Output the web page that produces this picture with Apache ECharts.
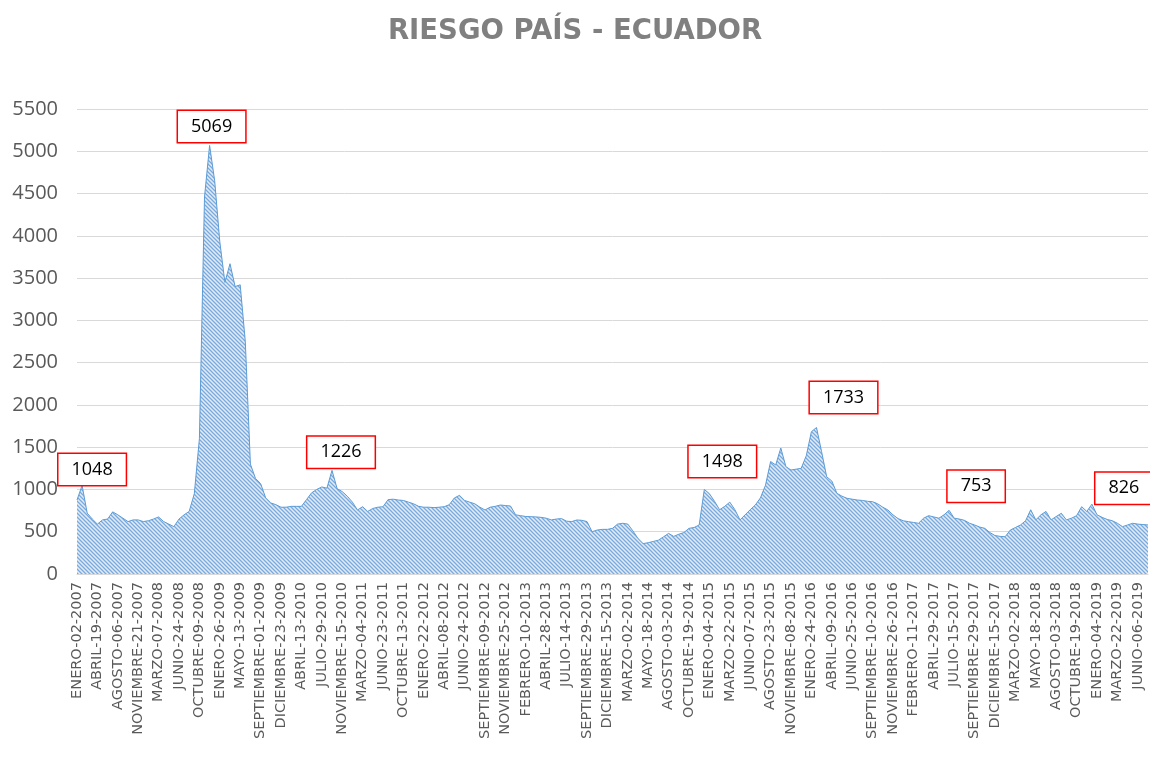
<!DOCTYPE html>
<html>
<head>
<meta charset="utf-8">
<title>Riesgo País - Ecuador</title>
<script src="https://cdn.jsdelivr.net/npm/echarts@6/dist/echarts.min.js"></script>
<style>
  html, body { margin: 0; padding: 0; background: #fff; }
  #chart { width: 1150px; height: 770px; }
</style>
</head>
<body>
<div id="chart"></div>
<script>
// etiquetas del eje X (una cada 4 puntos)
const dateLabels = [
  "ENERO-02-2007", "ABRIL-19-2007", "AGOSTO-06-2007", "NOVIEMBRE-21-2007",
  "MARZO-07-2008", "JUNIO-24-2008", "OCTUBRE-09-2008", "ENERO-26-2009",
  "MAYO-13-2009", "SEPTIEMBRE-01-2009", "DICIEMBRE-23-2009", "ABRIL-13-2010",
  "JULIO-29-2010", "NOVIEMBRE-15-2010", "MARZO-04-2011", "JUNIO-23-2011",
  "OCTUBRE-13-2011", "ENERO-22-2012", "ABRIL-08-2012", "JUNIO-24-2012",
  "SEPTIEMBRE-09-2012", "NOVIEMBRE-25-2012", "FEBRERO-10-2013", "ABRIL-28-2013",
  "JULIO-14-2013", "SEPTIEMBRE-29-2013", "DICIEMBRE-15-2013", "MARZO-02-2014",
  "MAYO-18-2014", "AGOSTO-03-2014", "OCTUBRE-19-2014", "ENERO-04-2015",
  "MARZO-22-2015", "JUNIO-07-2015", "AGOSTO-23-2015", "NOVIEMBRE-08-2015",
  "ENERO-24-2016", "ABRIL-09-2016", "JUNIO-25-2016", "SEPTIEMBRE-10-2016",
  "NOVIEMBRE-26-2016", "FEBRERO-11-2017", "ABRIL-29-2017", "JULIO-15-2017",
  "SEPTIEMBRE-29-2017", "DICIEMBRE-15-2017", "MARZO-02-2018", "MAYO-18-2018",
  "AGOSTO-03-2018", "OCTUBRE-19-2018", "ENERO-04-2019", "MARZO-22-2019",
  "JUNIO-06-2019"
];
const pointsPerLabel = 4;

// riesgo país (puntos básicos)
const riesgo = [
  875, 1048, 720, 650, 590, 640, 650, 735, 700, 660,
  620, 640, 640, 620, 630, 650, 675, 620, 590, 560,
  650, 700, 740, 950, 1600, 4460, 5069, 4650, 3930, 3450,
  3670, 3400, 3420, 2750, 1300, 1130, 1070, 900, 840, 820,
  790, 790, 800, 800, 800, 880, 960, 1000, 1030, 1015,
  1226, 1010, 975, 920, 850, 757, 796, 740, 775, 790,
  796, 880, 885, 875, 870, 850, 830, 800, 790, 790,
  785, 790, 796, 820, 900, 930, 870, 850, 830, 790,
  757, 790, 800, 816, 810, 804, 700, 690, 680, 678,
  675, 670, 660, 640, 650, 655, 625, 620, 639, 635,
  620, 500, 520, 528, 528, 540, 590, 600, 590, 510,
  420, 360, 370, 385, 400, 440, 480, 445, 470, 490,
  540, 550, 580, 1000, 950, 860, 760, 800, 850, 760,
  640, 700, 760, 816, 900, 1050, 1330, 1290, 1490, 1270,
  1230, 1240, 1250, 1400, 1683, 1733, 1446, 1150, 1100, 954,
  920, 895, 885, 875, 870, 860, 855, 830, 790, 757,
  700, 655, 630, 619, 610, 600, 660, 690, 675, 660,
  700, 753, 660, 650, 635, 600, 580, 555, 540, 490,
  455, 445, 441, 520, 550, 580, 630, 760, 640, 700,
  740, 640, 680, 718, 640, 660, 690, 796, 740, 826,
  700, 670, 645, 630, 600, 560, 580, 600, 590, 585,
  580
];

// anotaciones: índice del punto y texto del recuadro
const notePoints = [1, 26, 50, 123, 145, 171, 199];
const noteTexts = ["1048", "5069", "1226", "1498", "1733", "753", "826"];
const noteOffsets = [[10, -16], [2, -19], [9, -18], [18, -28], [27, -30], [27, -24], [32, -16]];

const yTicks = { min: 0, max: 5500, step: 500 };

const categories = riesgo.map((v, i) =>
  i % pointsPerLabel === 0 ? (dateLabels[i / pointsPerLabel] || "") : "");

// patrón rayado en diagonal
function hatch() {
  const s = 4;
  const c = document.createElement("canvas");
  c.width = s; c.height = s;
  const ctx = c.getContext("2d");
  ctx.fillStyle = "#e1ecf8";
  ctx.fillRect(0, 0, s, s);
  ctx.strokeStyle = "#7aaadb";
  ctx.lineWidth = 1.3;
  ctx.beginPath();
  ctx.moveTo(0, 0); ctx.lineTo(s, s);
  ctx.moveTo(-1, s - 1); ctx.lineTo(1, s + 1);
  ctx.moveTo(s - 1, -1); ctx.lineTo(s + 1, 1);
  ctx.stroke();
  return c;
}

const chart = echarts.init(document.getElementById("chart"));

chart.setOption({
  animation: false,
  title: {
    text: "RIESGO PAÍS - ECUADOR",
    left: "center",
    top: 13,
    textStyle: { fontFamily: "DejaVu Sans", fontWeight: "bold", fontSize: 27.5, color: "#808080" }
  },
  grid: { left: 77, right: 2, top: 109, bottom: 196 },
  xAxis: {
    type: "category",
    data: categories,
    boundaryGap: false,
    axisLine: { lineStyle: { color: "#d9d9d9" } },
    axisTick: { show: false },
    axisLabel: {
      interval: pointsPerLabel - 1,
      rotate: 90,
      margin: 8,
      fontFamily: "DejaVu Sans",
      fontSize: 14.5,
      color: "#595959"
    }
  },
  yAxis: {
    type: "value",
    min: yTicks.min,
    max: yTicks.max,
    interval: yTicks.step,
    axisLine: { show: false },
    axisTick: { show: false },
    axisLabel: {
      formatter: (v) => String(v),
      fontFamily: "Open Sans",
      fontSize: 20,
      color: "#595959",
      margin: 19
    },
    splitLine: { lineStyle: { color: "#d9d9d9", width: 1 } }
  },
  series: [{
    type: "line",
    data: riesgo,
    showSymbol: false,
    lineStyle: { color: "#5b9bd5", width: 1 },
    areaStyle: { color: { image: hatch(), repeat: "repeat" }, opacity: 1 },
    markPoint: {
      symbol: "circle",
      symbolSize: 1,
      itemStyle: { color: "transparent" },
      label: {
        show: true,
        position: "inside",
        formatter: "{b}",
        fontFamily: "Open Sans",
        fontSize: 18,
        color: "#000",
        backgroundColor: "#fff",
        borderColor: "#ff0000",
        borderWidth: 1.5,
        padding: [7, 13, 6, 13]
      },
      data: notePoints.map((idx, k) => ({
        name: noteTexts[k],
        coord: [idx, riesgo[idx]],
        label: { offset: noteOffsets[k] }
      }))
    }
  }]
});

window.addEventListener("resize", () => chart.resize());
</script>
</body>
</html>
